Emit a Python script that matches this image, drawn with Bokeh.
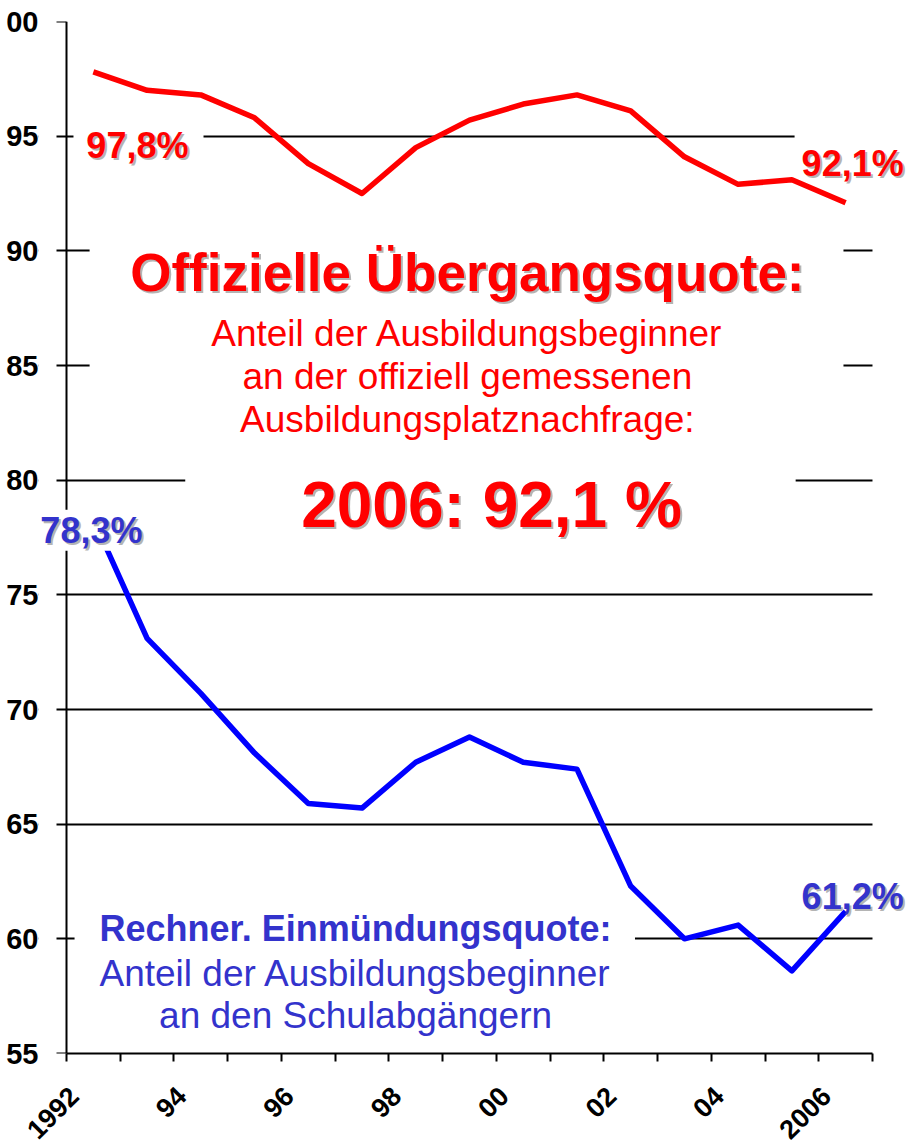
import math
from bokeh.plotting import figure
from bokeh.models import (Range1d, FixedTicker, Label, BoxAnnotation,
                          CustomJSTickFormatter, LinearAxis)
from bokeh.embed import file_html
from bokeh.resources import INLINE

# ---------------- data ----------------
years = list(range(1992, 2007))
offizielle_quote = [97.8, 97.0, 96.8, 95.8, 93.8, 92.5, 94.5, 95.7, 96.4, 96.8,
                    96.1, 94.1, 92.9, 93.1, 92.1]
einmuendungsquote = [78.3, 73.1, 70.7, 68.1, 65.9, 65.7, 67.7, 68.8, 67.7, 67.4,
                     62.3, 60.0, 60.6, 58.6, 61.2]

y_ticks = [55, 60, 65, 70, 75, 80, 85, 90, 95, 100]
y_tick_labels = ["55", "60", "65", "70", "75", "80", "85", "90", "95", "00"]
x_label_years = [1992, 1994, 1996, 1998, 2000, 2002, 2004, 2006]
x_tick_labels = ["1992", "94", "96", "98", "00", "02", "04", "2006"]

RED = "#FF0000"
BLUE_LINE = "#0000FF"
BLUE_TEXT = "#3333CC"
SHADOW = "#B4B4B4"
FONT = "Liberation Sans"

x_lo = years[0] - 0.5
x_hi = years[-1] + 0.5

p = figure(frame_width=868, frame_height=1032,
           x_range=Range1d(x_lo - 0.521, x_hi + 0.633),
           y_range=Range1d(y_ticks[0], y_ticks[-1]),
           output_backend="svg", toolbar_location=None,
           min_border_left=38, min_border_right=0,
           min_border_top=21, min_border_bottom=86)
p.outline_line_color = None
p.background_fill_color = "white"
p.border_fill_color = "white"

# ---------------- x axis ----------------
xa = p.xaxis[0]
xa.bounds = (x_lo, x_hi)
xa.ticker = FixedTicker(ticks=[y - 0.36 for y in x_label_years],
                        minor_ticks=[y - 0.5 for y in years] + [x_hi])
xa.formatter = CustomJSTickFormatter(args=dict(labels=x_tick_labels),
                                     code="return labels[index]")
xa.major_tick_out = 0
xa.major_tick_in = 0
xa.minor_tick_out = 8
xa.minor_tick_in = 0
xa.minor_tick_line_color = "black"
xa.minor_tick_line_width = 2
xa.axis_line_width = 2
xa.axis_line_color = "black"
xa.major_label_orientation = math.pi / 4
xa.major_label_standoff = 30
xa.major_label_text_font = FONT
xa.major_label_text_font_size = "27px"
xa.major_label_text_font_style = "bold"
xa.major_label_text_color = "black"

# ---------------- y axis: labels (left panel) ----------------
ya = p.yaxis[0]
ya.ticker = FixedTicker(ticks=y_ticks)
ya.major_label_overrides = {k: v for k, v in zip(y_ticks, y_tick_labels)}
ya.axis_line_color = None
ya.major_tick_out = 0
ya.major_tick_in = 0
ya.minor_tick_out = 0
ya.minor_tick_in = 0
ya.major_label_standoff = 0
ya.major_label_text_font = FONT
ya.major_label_text_font_size = "29px"
ya.major_label_text_font_style = "bold"
ya.major_label_text_color = "black"

# ---------------- y axis: line and ticks at the category start ----------------
ya2 = LinearAxis(fixed_location=x_lo, ticker=FixedTicker(ticks=y_ticks),
                 formatter=CustomJSTickFormatter(code="return ''"),
                 major_tick_out=10, major_tick_in=0,
                 minor_tick_out=0, minor_tick_in=0,
                 major_tick_line_width=2, major_tick_line_color="black",
                 axis_line_width=2, axis_line_color="black")
p.add_layout(ya2, "left")

p.xgrid.grid_line_color = None
p.ygrid.ticker = FixedTicker(ticks=y_ticks)
p.ygrid.grid_line_color = "black"
p.ygrid.grid_line_width = 2

# grid only inside the category area
p.add_layout(BoxAnnotation(right=x_lo, fill_color="white", fill_alpha=1.0,
                           line_alpha=0, level="underlay"))
p.add_layout(BoxAnnotation(left=x_hi, fill_color="white", fill_alpha=1.0,
                           line_alpha=0, level="underlay"))

# white boxes behind the text blocks (interrupt the grid lines)
for l, r, b, t in [(1991.63, 1994.05, 94.0, 96.0),
                   (2005.05, x_hi + 0.3, 94.0, 96.0),
                   (1991.93, 2005.96, 82.2, 91.2),
                   (1993.71, 2005.07, 78.6, 81.6),
                   (1991.65, 2002.08, 56.0, 61.6)]:
    p.add_layout(BoxAnnotation(left=l, right=r, bottom=b, top=t,
                               fill_color="white", fill_alpha=1.0,
                               line_alpha=0, level="underlay"))

# ---------------- lines ----------------
p.line(years, offizielle_quote, line_color=RED, line_width=5.5, line_join="round")
p.line(years, einmuendungsquote, line_color=BLUE_LINE, line_width=5.5, line_join="round")


def add_text(x, y, text, size, color, style="bold", align="left",
             dx=0, dy=0, shadow=False, box=None):
    common = dict(x=x, y=y, text=text, text_font=FONT,
                  text_font_size=f"{size}px", text_font_style=style,
                  text_align=align, text_baseline="alphabetic")
    if box is not None:
        p.add_layout(Label(x_offset=dx, y_offset=dy, text_color="white",
                           background_fill_color="white",
                           background_fill_alpha=1.0, padding=box, **common))
    if shadow:
        p.add_layout(Label(x_offset=dx + 2, y_offset=dy - 2,
                           text_color=SHADOW, **common))
    p.add_layout(Label(x_offset=dx, y_offset=dy, text_color=color, **common))


# value labels at the first / last point
add_text(years[0], offizielle_quote[0], "97,8%", 36, RED, dx=-7, dy=-74, shadow=True)
add_text(years[-1], offizielle_quote[-1], "92,1%", 36, RED, dx=-44, dy=39, shadow=True)
add_text(years[0], einmuendungsquote[0], "78,3%", 36, BLUE_TEXT, dx=-53, dy=-11,
         shadow=True, box=0)
add_text(years[-1], einmuendungsquote[-1], "61,2%", 36, BLUE_TEXT, dx=-44, dy=15, shadow=True)

# red explanatory block
cx_red = 1998.96
add_text(cx_red, 89.05, "Offizielle Übergangsquote:", 53, RED, align="center", shadow=True)
add_text(cx_red, 86.4, "Anteil der Ausbildungsbeginner", 37, RED, style="normal", align="center")
add_text(cx_red, 84.5, "an der offiziell gemessenen", 37, RED, style="normal", align="center")
add_text(cx_red, 82.65, "Ausbildungsplatznachfrage:", 37, RED, style="normal", align="center")
add_text(1999.41, 78.9, "2006: 92,1 %", 64, RED, align="center", shadow=True)

# blue explanatory block
cx_blue = 1996.88
add_text(cx_blue, 60.43, "Rechner. Einmündungsquote:", 36, BLUE_TEXT, align="center")
add_text(cx_blue, 58.51, "Anteil der Ausbildungsbeginner", 37, BLUE_TEXT, style="normal", align="center")
add_text(cx_blue, 56.64, "an den Schulabgängern", 37, BLUE_TEXT, style="normal", align="center")

open("out.html", "w").write(file_html(p, INLINE))
